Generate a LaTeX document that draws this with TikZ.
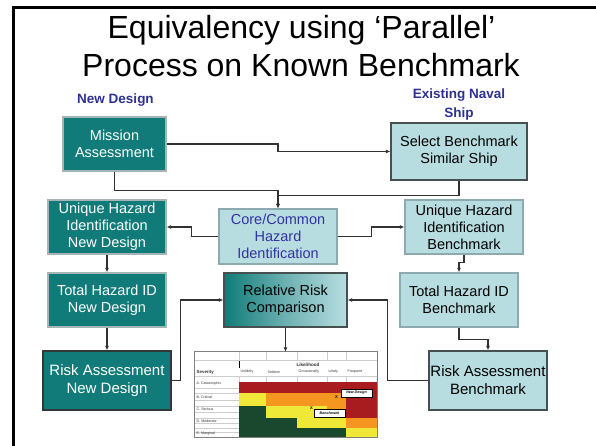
\documentclass[tikz,border=0pt]{standalone}
\usepackage{fontspec}
\setmainfont{Liberation Sans}
\usetikzlibrary{arrows.meta,calc}
\definecolor{tealD}{RGB}{16,123,120}
\definecolor{lightB}{RGB}{184,221,225}
\definecolor{navy}{RGB}{46,49,146}
\definecolor{coreblue}{RGB}{50,50,160}
\definecolor{bdlight}{RGB}{165,180,180}
\definecolor{bdblue}{RGB}{140,170,176}
\definecolor{bddark}{RGB}{70,80,80}
\definecolor{lnc}{RGB}{50,50,50}
\definecolor{rred}{RGB}{168,28,32}
\definecolor{rorange}{RGB}{244,150,32}
\definecolor{ryellow}{RGB}{240,232,56}
\definecolor{rgreen}{RGB}{26,72,46}
\definecolor{gridc}{RGB}{205,205,205}
\begin{document}
\begin{tikzpicture}[x=1pt,y=-1pt,
  boxtext/.style={font=\fontsize{14.5}{17}\selectfont, align=center, inner sep=0pt, line width=1.3pt},
  darkbox/.style={boxtext, fill=tealD, draw=bdlight, text=white},
  lightbox/.style={boxtext, fill=lightB, draw=bdblue, text=black},
  conn/.style={draw=lnc, line width=1.1pt, -{Latex[length=4.5pt,width=4pt]}},
  lab/.style={font=\fontsize{13.5}{16}\selectfont\bfseries, text=navy, inner sep=0pt, anchor=base},
  tiny/.style={font=\fontsize{3.6}{4}\selectfont, inner sep=0pt, anchor=west, text=black!80},
  tag/.style={font=\fontsize{3.6}{4}\selectfont\bfseries\itshape, fill=white, draw=black, line width=0.4pt, inner sep=0pt}
]
\useasboundingbox (0,0) rectangle (596,446);
\fill[white] (0,0) rectangle (596,446);
\draw[line width=3pt] (13.5,446) -- (13.5,8) -- (596,8);

% title
\node[anchor=base, inner sep=0pt, font=\fontsize{32}{38}\selectfont] (t1) at (301.5,39) {Equivalency using ‘Parallel’};
\node[anchor=base, inner sep=0pt, font=\fontsize{32}{38}\selectfont] (t2) at (301,77) {Process on Known Benchmark};

% column labels
\node[lab] (lnd) at (115.5,104) {New Design};
\node[lab] (lex1) at (459,99) {Existing Naval};
\node[lab] (lex2) at (459,118) {Ship};

% boxes
\node[darkbox, minimum width=103, minimum height=54] (MA) at (114.5,144) {Mission\\Assessment};
\node[lightbox, draw=bddark, minimum width=136, minimum height=57] (SB) at (459,151.5) {Select Benchmark\\Similar Ship};
\node[darkbox, minimum width=118, minimum height=54] (UHN) at (107,227) {Unique Hazard\\Identification\\New Design};
\node[lightbox, text=coreblue, minimum width=118, minimum height=55] (CORE) at (278,236.5) {Core/Common\\Hazard\\Identification};
\node[lightbox, minimum width=118, minimum height=54] (UHB) at (464,227) {Unique Hazard\\Identification\\Benchmark};
\node[darkbox, minimum width=118, minimum height=54] (THN) at (107,300) {Total Hazard ID\\New Design};
\node[boxtext, draw=bddark, left color=tealD, right color=lightB, middle color=lightB!55!tealD, minimum width=123, minimum height=54] (RRC) at (285.5,300) {Relative Risk\\Comparison};
\node[lightbox, minimum width=118, minimum height=54] (THB) at (459,300) {Total Hazard ID\\Benchmark};
\node[darkbox, draw=bddark!70!black, font=\fontsize{15}{18}\selectfont, minimum width=128, minimum height=59] (RAN) at (107,380.5) {Risk Assessment\\New Design};
\node[lightbox, draw=bddark, font=\fontsize{15}{18}\selectfont, minimum width=118, minimum height=59] (RAB) at (488,380.5) {Risk Assessment\\Benchmark};

% risk matrix
\node[minimum width=182, minimum height=85, inner sep=0pt] (M) at (286,394.5) {};
% header grid
\draw[gridc, line width=0.4pt] (195,360) -- (377,360) (195,376) -- (377,376);
\foreach \c in {239,266,297,327,346} {
  \draw[gridc, line width=0.4pt] (\c,352) -- (\c,360);
  \draw[gridc, line width=0.4pt] (\c,376) -- (\c,382);
}
\foreach \r in {388,393,400,406,412,418,423,428,432} {
  \draw[gridc, line width=0.4pt] (195,\r) -- (239,\r);
}
% cells
\fill[rred] (239,382) rectangle (377,393);
\fill[ryellow] (239,393) rectangle (266,406);
\fill[rorange] (266,393) rectangle (346,406);
\fill[rred] (346,393) rectangle (377,406);
\fill[rgreen] (239,406) rectangle (266,418);
\fill[ryellow] (266,406) rectangle (327,418);
\fill[rorange] (327,406) rectangle (346,418);
\fill[rred] (346,406) rectangle (377,418);
\fill[rgreen] (239,418) rectangle (297,428);
\fill[ryellow] (297,418) rectangle (346,428);
\fill[rorange] (346,418) rectangle (377,428);
\fill[rgreen] (239,428) rectangle (346,437);
\fill[ryellow] (346,428) rectangle (377,437);
% header text
\draw[black, line width=0.8pt] (239.5,361) -- (239.5,368);
\node[tiny, anchor=center, font=\fontsize{4.6}{5}\selectfont\bfseries] (lk) at (308,364.5) {Likelihood};
\node[tiny, font=\fontsize{4.4}{5}\selectfont\bfseries] (sv) at (196.5,372) {Severity};
\node[tiny] (h1) at (240.5,372) {Unlikely};
\node[tiny] (h2) at (267.5,372) {Seldom};
\node[tiny] (h3) at (298.5,372) {Occasionally};
\node[tiny] (h4) at (328.5,372) {Likely};
\node[tiny] (h5) at (347.5,372) {Frequent};
\node[tiny] (sa) at (196.5,384) {A. Catastrophic};
\node[tiny] (sb) at (196.5,397) {B. Critical};
\node[tiny] (sc) at (196.5,409) {C. Serious};
\node[tiny] (sd) at (196.5,421) {D. Moderate};
\node[tiny] (se) at (196.5,433.5) {E. Marginal};
% markers
\node[font=\fontsize{4}{4}\selectfont\bfseries, inner sep=0pt] (x1) at (336.5,397.5) {X};
\node[font=\fontsize{4}{4}\selectfont\bfseries, inner sep=0pt] (x2) at (311.5,408.5) {X};
\node[tag, minimum width=31, minimum height=8] (tn) at (356.5,393) {New Design};
\node[tag, minimum width=31, minimum height=8] (tb) at (329.5,413) {Benchmark};
\draw[gray, line width=0.8pt] (M.north west) rectangle (M.south east);

% connectors
\draw[conn] (MA.east) -- (MA.east -| CORE.north) |- (SB.west);
\draw[conn] (MA.south) -- ++(0,19) -| (CORE.north);
\draw[conn] (SB.south) -- ++(0,15) -| (CORE.north);
\draw[conn] (CORE.west) -- ++(-27,0) |- (UHN.east);
\draw[conn] (CORE.east) -- ++(34,0) |- (UHB.west);
\draw[conn] (UHN.south) -- (THN.north);
\draw[conn] (UHB.south) -- ++(0,8) -| (THB.north);
\draw[conn] (THN.south) -- (RAN.north);
\draw[conn] (THB.south) -- ++(0,12) -| (RAB.north);
\draw[conn] (RAN.east) -- ++(9,0) |- (RRC.west);
\draw[conn] (RAB.west) -- ++(-41,0) |- (RRC.east);
\draw[conn] (RRC.south) -- (RRC.south |- M.north);
\end{tikzpicture}
\end{document}
